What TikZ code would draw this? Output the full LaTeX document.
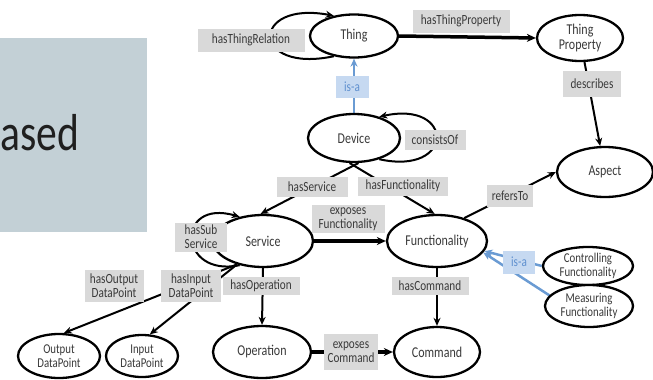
\documentclass[tikz,border=0pt]{standalone}
\usepackage{fontspec}
\usetikzlibrary{shapes.geometric,arrows.meta}
\newfontfamily\diagfont{Carlito}[FakeStretch=0.8]
\newcommand\nodefont{\diagfont\fontsize{15}{16}\selectfont}
\newcommand\smallnodefont{\diagfont\fontsize{13.5}{14.5}\selectfont}
\newcommand\lblfont{\diagfont\fontsize{14}{14}\selectfont}
\newcommand\bigfont{\diagfont\fontsize{52}{52}\selectfont}
\definecolor{panel}{HTML}{C3D0D6}
\definecolor{lblgray}{HTML}{D9D9D9}
\definecolor{txt}{HTML}{3A3A3A}
\definecolor{isablue}{HTML}{6A9BD3}
\definecolor{isafill}{HTML}{C6D9F1}
\definecolor{isatext}{HTML}{5F90CF}
\pgfdeclarelayer{edges}
\pgfsetlayers{edges,main}
\tikzset{
  cls/.style={ellipse, draw=black, line width=2.3pt, fill=white, inner sep=0pt,
    text=txt, font=\nodefont, align=center},
  lbl/.style={rectangle, fill=lblgray, inner sep=0pt, text=txt, font=\lblfont, align=center},
  isalbl/.style={rectangle, fill=isafill, inner sep=0pt, text=isatext, font=\lblfont},
  rel/.style={draw=black, line width=2pt, -{Stealth[length=8pt,width=7pt]}},
  relthick/.style={draw=black, line width=3.5pt, -{Stealth[length=9pt,width=8pt]}},
  isarel/.style={draw=isablue, line width=2.5pt, -{Stealth[length=8pt,width=7pt]}},
}
\begin{document}
\begin{tikzpicture}[x=1pt, y=-1pt]
\useasboundingbox (0,0) rectangle (653,380);

% side panel with partly visible title
\fill[panel] (0,38) rectangle (147,232);
\node[anchor=base west, inner sep=0pt, font=\bigfont, text=black!88] (title) at (0,150) {ased};

% classes
\node[cls, minimum width=88, minimum height=43] (thing) at (354,36) {Thing};
\node[cls, minimum width=86, minimum height=46] (thingprop) at (580,38) {Thing\\Property};
\node[cls, minimum width=92, minimum height=48] (device) at (354,138) {Device};
\node[cls, minimum width=96, minimum height=50] (aspect) at (605,172) {Aspect};
\node[cls, minimum width=100, minimum height=52] (service) at (263,241) {Service};
\node[cls, minimum width=100, minimum height=52] (func) at (437,241) {Functionality};
\node[cls, minimum width=90, minimum height=38, font=\smallnodefont] (ctrl) at (588,266) {Controlling\\Functionality};
\node[cls, minimum width=88, minimum height=42, font=\smallnodefont] (meas) at (589,306) {Measuring\\Functionality};
\node[cls, minimum width=82, minimum height=44, font=\smallnodefont] (outdp) at (59,356) {Output\\DataPoint};
\node[cls, minimum width=72, minimum height=42, font=\smallnodefont] (indp) at (142,356) {Input\\DataPoint};
\node[cls, minimum width=98, minimum height=52] (operation) at (262,352) {Operation};
\node[cls, minimum width=86, minimum height=50] (command) at (437,352) {Command};

% relation labels
\node[lbl, minimum width=107, minimum height=23] (lThingRel) at (251,40) {hasThingRelation};
\node[lbl, minimum width=97, minimum height=23] (lThingProp) at (461,21) {hasThingProperty};
\node[isalbl, minimum width=33, minimum height=22] (lIsaThing) at (352,87) {is-a};
\node[lbl, minimum width=61, minimum height=20] (lConsists) at (435,140) {consistsOf};
\node[lbl, minimum width=58, minimum height=26] (lDescribes) at (592,84) {describes};
\node[lbl, minimum width=71, minimum height=20] (lService) at (312,187) {hasService};
\node[lbl, minimum width=90, minimum height=19] (lFunc) at (403,186) {hasFunctionality};
\node[lbl, minimum width=73, minimum height=28] (lExpFunc) at (348,219) {exposes\\Functionality};
\node[lbl, minimum width=46, minimum height=22] (lRefers) at (510,196) {refersTo};
\node[lbl, minimum width=52, minimum height=29] (lSub) at (201,237) {hasSub\\Service};
\node[isalbl, minimum width=32, minimum height=23] (lIsaFunc) at (519,262) {is-a};
\node[lbl, minimum width=59, minimum height=32] (lOut) at (114,286) {hasOutput\\DataPoint};
\node[lbl, minimum width=60, minimum height=32] (lIn) at (191,286) {hasInput\\DataPoint};
\node[lbl, minimum width=77, minimum height=18] (lOper) at (261,286) {hasOperation};
\node[lbl, minimum width=77, minimum height=18] (lCmd) at (430,286) {hasCommand};
\node[lbl, minimum width=54, minimum height=36] (lExpCmd) at (351,352) {exposes\\Command};

% connectors, kept below the labels
\begin{pgfonlayer}{edges}
\draw[rel] (thing.225) .. controls (250,74) and (250,0) .. (thing.135);
\draw[isarel] (device.north) -- (thing.south);
\draw[relthick] (thing.east) -- (thingprop.west);
\draw[rel] (thingprop) -- (aspect);
\draw[rel] (device.-40) .. controls (455,176) and (455,100) .. (device.40);
\draw[rel] (device.280) -- (service.95);
\draw[rel] (device.260) -- (func.95);
\draw[relthick] (service.east) -- (func.west);
\draw[rel] (func.40) -- (aspect.west);
\draw[rel] (service.226) .. controls (178,278) and (175,198) .. (service.134);
\draw[rel] (service.222) -- (outdp.78);
\draw[rel] (service.222) -- (indp.70);
\draw[rel] (service.south) -- (operation.north);
\draw[rel] (func.south) -- (command.north);
\draw[relthick] (operation.east) -- (command.west);
\draw[isarel] (ctrl.west) -- (func.-12);
\draw[isarel] (meas.165) -- (func.-14);
\end{pgfonlayer}
\end{tikzpicture}
\end{document}
